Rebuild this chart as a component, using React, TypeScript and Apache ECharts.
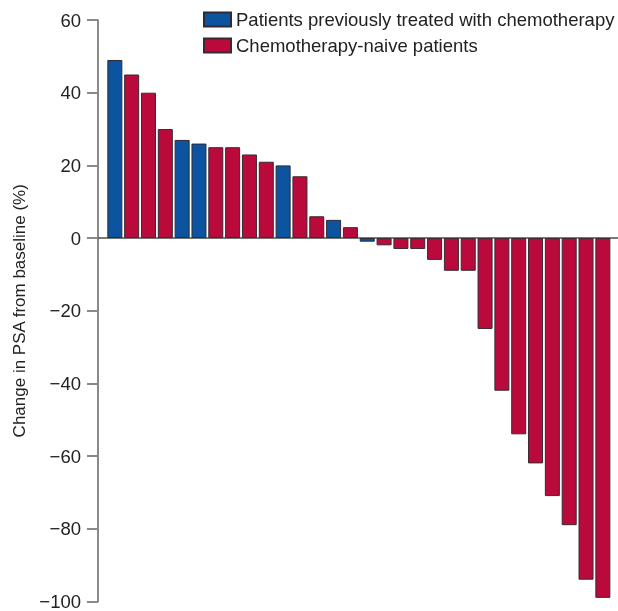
import React, { useEffect, useRef } from "react";
import * as echarts from "echarts";

const patientNumbers = [
  1, 2, 3, 4, 5, 6, 7, 8, 9, 10, 11, 12, 13, 14, 15,
  16, 17, 18, 19, 20, 21, 22, 23, 24, 25, 26, 27, 28, 29, 30,
];
const psaChange = [
  49, 45, 40, 30, 27, 26, 25, 25, 23, 21, 20, 17, 6, 5, 3,
  -1, -2, -3, -3, -6, -9, -9, -25, -42, -54, -62, -71, -79, -94, -99,
];
// "P" = previously treated with chemotherapy, "N" = chemotherapy-naive
const groups = [
  "P", "N", "N", "N", "P", "P", "N", "N", "N", "N", "P", "N", "N", "P", "N",
  "P", "N", "N", "N", "N", "N", "N", "N", "N", "N", "N", "N", "N", "N", "N",
];
const seriesNames = [
  "Patients previously treated with chemotherapy",
  "Chemotherapy-naive patients",
];
const yTicks = { min: -100, max: 60, interval: 20 };

export default function App() {
  const ref = useRef<HTMLDivElement>(null);
  useEffect(() => {
    if (!ref.current) return;
    const chart = echarts.init(ref.current, null, { renderer: "svg" });
    const build = (g: string) =>
      patientNumbers.map((p, i) => [p, groups[i] === g ? psaChange[i] : null]);
    const font = "'Liberation Sans', Arial, sans-serif";
    chart.setOption({
      animation: false,
      textStyle: { fontFamily: font },
      grid: { left: 98, right: 0, top: 20, bottom: 7, containLabel: false },
      legend: {
        orient: "vertical",
        left: 203,
        top: 10,
        padding: 0,
        itemWidth: 27,
        itemHeight: 14,
        itemGap: 7,
        icon: "rect",
        textStyle: { fontSize: 18.5, color: "#222", fontFamily: font },
        data: seriesNames,
      },
      xAxis: {
        type: "value",
        min: 0,
        max: 30.9,
        axisLine: { show: true, onZero: true, lineStyle: { color: "#46504c", width: 1.5 } },
        axisTick: { show: false },
        axisLabel: { show: false },
        splitLine: { show: false },
      },
      yAxis: {
        type: "value",
        min: yTicks.min,
        max: yTicks.max,
        interval: yTicks.interval,
        name: "Change in PSA from baseline (%)",
        nameLocation: "middle",
        nameGap: 70,
        nameTextStyle: { fontSize: 17, color: "#222", fontFamily: font },
        axisLine: { show: true, lineStyle: { color: "#8a8a8a", width: 2 } },
        axisTick: { show: true, length: 11, lineStyle: { color: "#8a8a8a", width: 2 } },
        axisLabel: {
          fontSize: 18.5,
          color: "#222",
          margin: 17,
          fontFamily: font,
          formatter: (v: number) => String(v).replace("-", "\u2212"),
        },
        splitLine: { show: false },
      },
      series: [
        {
          name: seriesNames[0],
          type: "bar",
          stack: "psa",
          barWidth: 15,
          data: build("P"),
          itemStyle: { color: "#0c54a0", borderColor: "#2f2a35", borderWidth: 1 },
        },
        {
          name: seriesNames[1],
          type: "bar",
          stack: "psa",
          barWidth: 15,
          data: build("N"),
          itemStyle: { color: "#b90a3b", borderColor: "#3a2a30", borderWidth: 1 },
        },
      ],
    });
    return () => chart.dispose();
  }, []);
  return (
    <div
      ref={ref}
      style={{ position: "fixed", left: 0, top: 0, width: 618, height: 611 }}
    />
  );
}
